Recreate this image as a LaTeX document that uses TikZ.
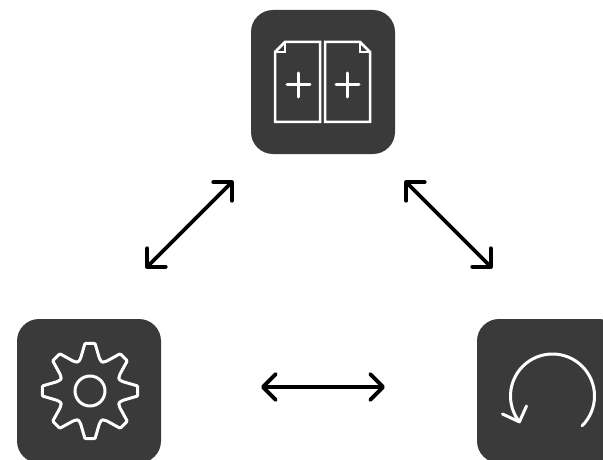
\documentclass[tikz,border=0pt]{standalone}
\usetikzlibrary{arrows.meta}
\definecolor{tile}{HTML}{3A3A3A}

\begin{document}
\begin{tikzpicture}[x=1pt, y=1pt,
  tile/.style = {fill=tile, rounded corners=22pt, minimum size=144pt, inner sep=0pt},
  icon/.style = {draw=white, line width=3pt, line join=round, line cap=round},
  page/.style = {icon, line width=2.5pt, line cap=butt, line join=miter},
  link/.style = {black, line width=3.8pt, {Straight Barb[length=13pt, width=26pt, round]}-{Straight Barb[length=13pt, width=26pt, round]}},
  ]
  \useasboundingbox (0,0) rectangle (603,459);
  \node[tile] (pages) at (323,377) {};
  \node[tile] (gear) at (89,68) {};
  \node[tile] (undo) at (549,68) {};

  % free ends of the arrows
  \coordinate (pagesleft) at (233,278);
  \coordinate (gearup) at (146,191);
  \coordinate (pagesright) at (405,278);
  \coordinate (undoup) at (492,191);
  \coordinate (gearright) at (261,72);
  \coordinate (undoleft) at (385,72);
  \draw[link] (pagesleft) -- (gearup);
  \draw[link] (pagesright) -- (undoup);
  \draw[link] (gearright) -- (undoleft);

  % two pages
  \draw[page] (320,417) -- (285,417) -- (275,407) -- (275,337) -- (320,337) -- cycle;
  \draw[page] (325,417) -- (360,417) -- (370,407) -- (370,337) -- (325,337) -- cycle;
  \draw[page, line width=2pt] (285,417) -- (285,407) -- (275,407);
  \draw[page, line width=2pt] (360,417) -- (360,407) -- (370,407);
  \draw[icon] (287,374) -- (310,374) (298.5,362) -- (298.5,386);
  \draw[icon] (336,374) -- (359,374) (347.5,362) -- (347.5,386);

  % cog
  \begin{scope}[shift={(90,68)}]
    \draw[icon, rounded corners=1pt] (112.5:31)
      \foreach \a in {90,45,0,-45,-90,-135,-180,-225} { -- (\a+16:34) -- (\a+6:48) -- (\a-6:48) -- (\a-16:34) -- (\a-22.5:31) } -- cycle;
    \draw[icon] (0,0) circle (15);
  \end{scope}

  % undo
  \begin{scope}[shift={(552.5,63)}]
    \draw[icon] (-45:42) arc (-45:218:42);
    \draw[icon] (-50,-18) -- (218:42) -- (-26,-10);
  \end{scope}
\end{tikzpicture}
\end{document}
